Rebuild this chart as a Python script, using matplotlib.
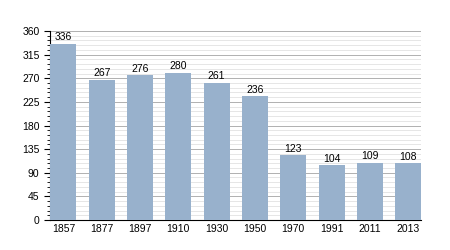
import matplotlib
matplotlib.use('Agg')
import matplotlib.pyplot as plt
from matplotlib.ticker import MultipleLocator

plt.rcParams['font.family'] = ['Liberation Sans', 'DejaVu Sans']

years = ['1857', '1877', '1897', '1910', '1930', '1950', '1970', '1991', '2011', '2013']
population = [336, 267, 276, 280, 261, 236, 123, 104, 109, 108]

fig = plt.figure(figsize=(4.5, 2.5), dpi=100)
ax = fig.add_axes([0.111, 0.12, 0.825, 0.756])

x = range(len(years))
bars = ax.bar(x, population, width=0.68, color='#98b1cc', zorder=3)
for xi, v in zip(x, population):
    ax.text(xi, v + 3, str(v), ha='center', va='bottom', fontsize=7.5, zorder=4)

ax.set_xlim(-0.35, 9.34)
ax.set_ylim(0, 360)
ax.yaxis.set_major_locator(MultipleLocator(45))
ax.yaxis.set_minor_locator(MultipleLocator(9))
ax.grid(axis='y', which='major', color='#b0b0b0', linewidth=0.7, zorder=0)
ax.grid(axis='y', which='minor', color='#e2e2e2', linewidth=0.6, zorder=0)
ax.set_xticks(list(x))
ax.set_xticklabels(years)
ax.tick_params(axis='x', length=0, labelsize=7.5, pad=3)
ax.tick_params(axis='y', which='major', length=4, labelsize=7.5, direction='out')
ax.tick_params(axis='y', which='minor', length=2, direction='out')
for s in ['top', 'right']:
    ax.spines[s].set_visible(False)
ax.spines['left'].set_linewidth(0.8)
ax.spines['bottom'].set_linewidth(0.8)

fig.savefig('out.png', dpi=100)
